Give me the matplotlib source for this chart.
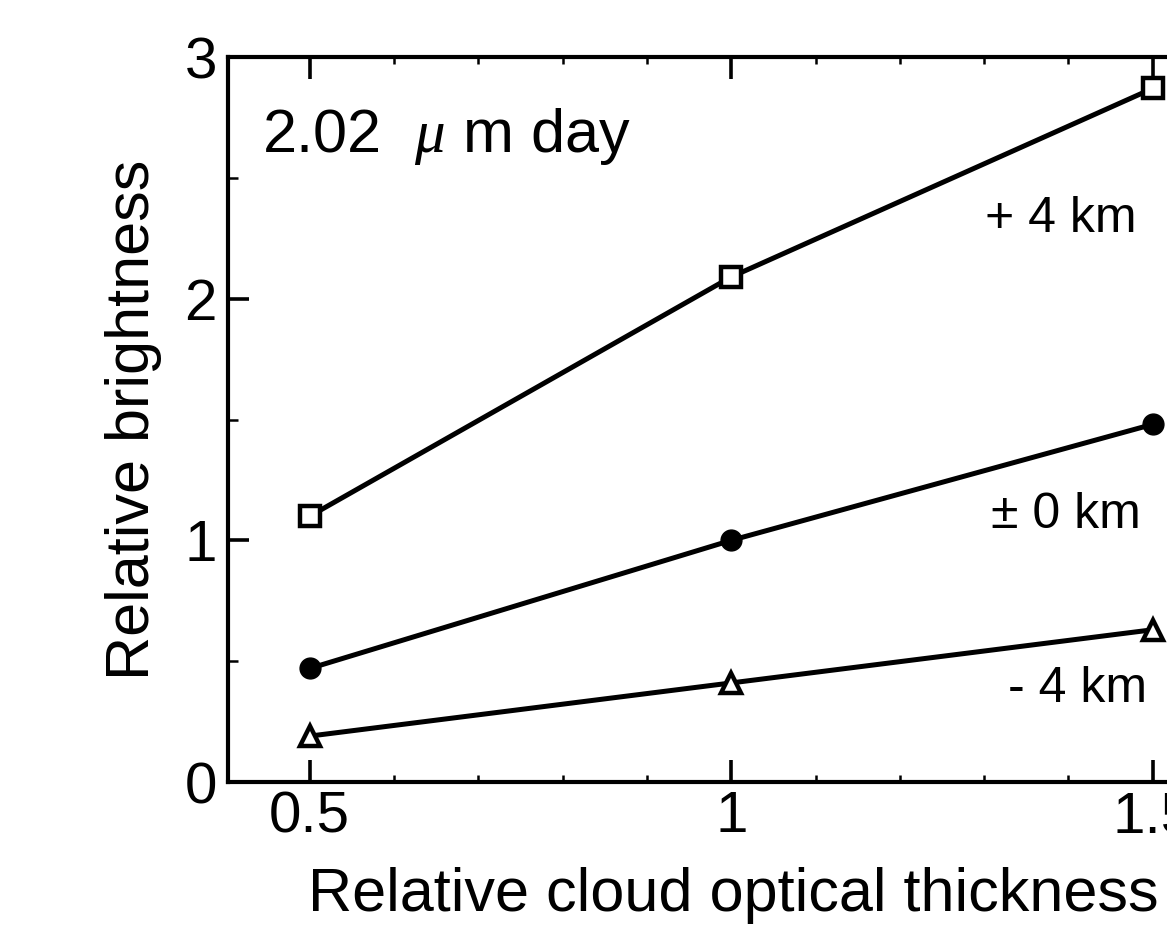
import matplotlib
matplotlib.use("Agg")
import matplotlib.pyplot as plt
from matplotlib.ticker import MultipleLocator, FixedLocator

plt.rcParams['font.family'] = ['Liberation Sans', 'DejaVu Sans']
plt.rcParams['mathtext.fontset'] = 'custom'
plt.rcParams['mathtext.it'] = 'Liberation Serif:italic'

thickness = [0.5, 1.0, 1.5]
plus4 = [1.10, 2.09, 2.87]
zero = [0.47, 1.00, 1.48]
minus4 = [0.19, 0.41, 0.63]
series_labels = ["+ 4 km", "\u00b1 0 km", "- 4 km"]
panel_label = r"2.02  $\mu$ m day"
x_ticks = [0.5, 1.0, 1.5]
x_ticklabels = ["0.5", "1", "1.5"]
y_ticks = [0, 1, 2, 3]
y_ticklabels = ["0", "1", "2", "3"]

W, H = 1167, 931
fig = plt.figure(figsize=(W / 100, H / 100), dpi=100)
x0, x1 = 0.403, 1.6
px_per_unit = 843.0
left = 228 / W
bottom = (H - 782) / H
height = (782 - 57) / H
width = (x1 - x0) * px_per_unit / W
ax = fig.add_axes([left, bottom, width, height])

lw = 3.6
ax.plot(thickness, plus4, '-', color='black', lw=lw, marker='s', ms=14,
        mfc='white', mec='black', mew=3.2, clip_on=False, zorder=3)
ax.plot(thickness, zero, '-', color='black', lw=lw, marker='o', ms=15,
        mfc='black', mec='black', clip_on=False, zorder=3)
ax.plot(thickness, minus4, '-', color='black', lw=lw, marker='^', ms=15,
        mfc='white', mec='black', mew=3.2, clip_on=False, zorder=3)

ax.set_xlim(x0, x1)
ax.set_ylim(0, 3)
ax.xaxis.set_major_locator(FixedLocator(x_ticks))
ax.xaxis.set_minor_locator(MultipleLocator(0.1))
ax.yaxis.set_major_locator(FixedLocator(y_ticks))
ax.yaxis.set_minor_locator(MultipleLocator(0.5))
ax.set_xticklabels(x_ticklabels)
ax.set_yticklabels(y_ticklabels)

for s in ax.spines.values():
    s.set_linewidth(3.0)

fs = 42
ax.tick_params(which='major', axis='x', direction='in', length=16, width=2.6,
               top=True, bottom=True, labelsize=fs, pad=6)
ax.tick_params(which='minor', axis='x', direction='in', length=5, width=1.8,
               top=True, bottom=True)
ax.tick_params(which='major', axis='y', direction='in', length=15, width=2.6,
               labelsize=fs, pad=8)
ax.tick_params(which='minor', axis='y', direction='in', length=7, width=1.8)


def fx(px):
    return px / W


def fy(py):
    return 1 - py / H


fig.text(fx(733), fy(911), "Relative cloud optical thickness", fontsize=44,
         ha='center', va='baseline')
fig.text(fx(134), fy(420), "Relative brightness", fontsize=44,
         ha='center', va='center', rotation=90)

fig.text(fx(262), fy(152), panel_label, fontsize=44, ha='left', va='baseline')
fig.text(fx(1061), fy(232), series_labels[0], fontsize=36, ha='center', va='baseline')
fig.text(fx(1066), fy(528), series_labels[1], fontsize=36, ha='center', va='baseline')
fig.text(fx(1077), fy(702), series_labels[2], fontsize=36, ha='center', va='baseline')

fig.savefig("out.png", dpi=100)
